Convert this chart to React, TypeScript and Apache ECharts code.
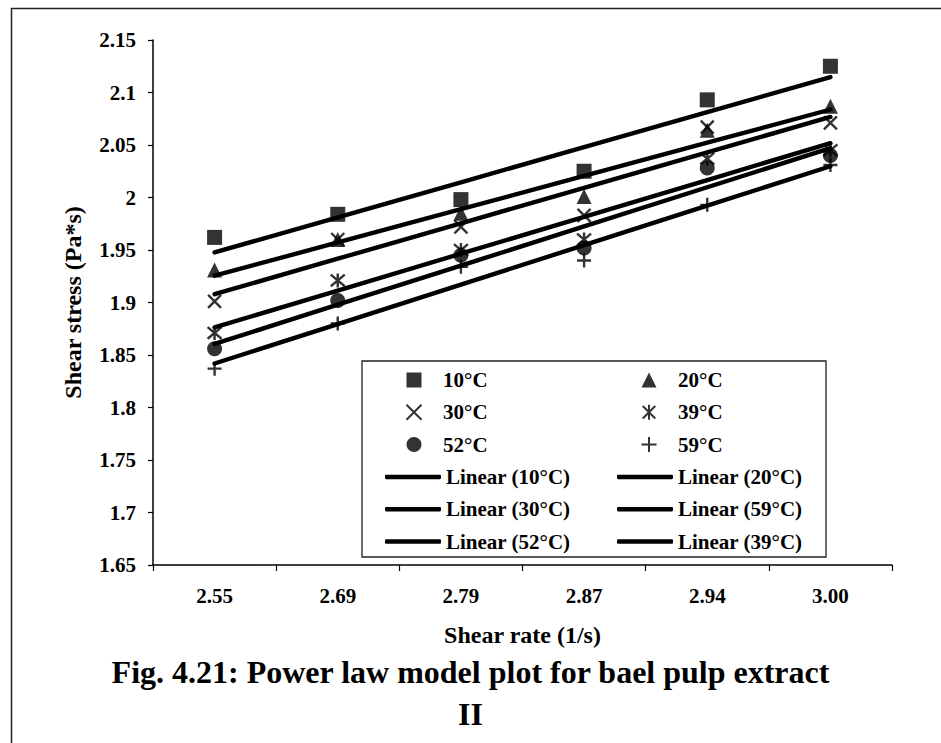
import React, { useEffect, useRef } from 'react';
import * as echarts from 'echarts';

const categories = ['2.55', '2.69', '2.79', '2.87', '2.94', '3.00'];
const s10 = [1.962, 1.984, 1.998, 2.025, 2.093, 2.125];
const s20 = [1.931, 1.96, 1.985, 2.001, 2.064, 2.087];
const s30 = [1.901, 1.96, 1.972, 1.983, 2.067, 2.071];
const s39 = [1.871, 1.921, 1.95, 1.96, 2.037, 2.045];
const s52 = [1.856, 1.902, 1.945, 1.952, 2.028, 2.04];
const s59 = [1.837, 1.88, 1.934, 1.94, 1.993, 2.031];
const yTicks = { min: 1.65, max: 2.15, interval: 0.05 };

const FONT = "'Liberation Serif', 'Times New Roman', serif";
const INK = '#000';

const SYM_X = 'path://M0,0L10,10M10,0L0,10';
const SYM_AST = 'path://M0,0L10,10M10,0L0,10M5,-1L5,11';
const SYM_PLUS = 'path://M5,0L5,10M0,5L10,5';

// least-squares linear trend over category index (as Excel's "Linear" trendline)
function trend(vals: number[]): number[] {
  const n = vals.length;
  const xm = (n - 1) / 2;
  const ym = vals.reduce((a, b) => a + b, 0) / n;
  let sxy = 0;
  let sxx = 0;
  vals.forEach((v, i) => {
    sxy += (i - xm) * (v - ym);
    sxx += (i - xm) * (i - xm);
  });
  const b = sxy / sxx;
  const a = ym - b * xm;
  return vals.map((_, i) => +(a + b * i).toFixed(5));
}

function scatter(name: string, data: number[], symbol: string, size: number, stroked: boolean) {
  return {
    name,
    type: 'scatter',
    data,
    symbol,
    symbolSize: size,
    z: 2,
    itemStyle: stroked
      ? { color: 'rgba(0,0,0,0)', borderColor: INK, borderWidth: 2.4 }
      : { color: INK, borderWidth: 0 },
  };
}

function trendLine(name: string, data: number[]) {
  return {
    name,
    type: 'line',
    data: trend(data),
    symbol: 'none',
    z: 3,
    itemStyle: { color: INK },
    lineStyle: { color: INK, width: 4.4, cap: 'round' },
  };
}

export default function App() {
  const ref = useRef<HTMLDivElement>(null);
  useEffect(() => {
    if (!ref.current) return;
    const chart = echarts.init(ref.current, undefined, { renderer: 'svg' });
    const textStyle = { fontFamily: FONT, fontWeight: 'bold', fontSize: 21, color: INK, lineHeight: 21 };
    const markerLegend = {
      orient: 'vertical',
      padding: 0,
      itemGap: 11.3,
      selectedMode: false,
      itemWidth: 15,
      itemHeight: 15,
      textStyle: { ...textStyle, padding: [0, 0, 0, 16.5] },
    };
    const lineLegend = {
      orient: 'vertical',
      padding: 0,
      itemGap: 11.3,
      selectedMode: false,
      itemWidth: 56,
      itemHeight: 4.5,
      textStyle,
    };
    const rowTop = 369.5;
    const rowStep = 32.3;
    const lineItems = (names: string[]) => names.map((n) => ({ name: n, icon: 'roundRect' }));
    chart.setOption({
      animation: false,
      backgroundColor: '#fff',
      title: {
        text: 'Fig. 4.21: Power law model plot for bael pulp extract\nII',
        left: 'center',
        top: 651,
        padding: 0,
        textStyle: { fontFamily: FONT, fontWeight: 'bold', fontSize: 32, color: INK, lineHeight: 42 },
      },
      grid: { left: 153, right: 49, top: 40, bottom: 178, containLabel: false },
      xAxis: {
        type: 'category',
        data: categories,
        boundaryGap: true,
        name: 'Shear rate (1/s)',
        nameLocation: 'middle',
        nameGap: 58,
        nameTextStyle: { fontFamily: FONT, fontWeight: 'bold', fontSize: 24, color: INK },
        axisLine: { lineStyle: { color: INK, width: 1.5 } },
        axisTick: { show: true, length: 6, lineStyle: { color: INK, width: 1.2 } },
        axisLabel: { fontFamily: FONT, fontWeight: 'bold', fontSize: 21, color: INK, margin: 20 },
        splitLine: { show: false },
      },
      yAxis: {
        type: 'value',
        min: yTicks.min,
        max: yTicks.max,
        interval: yTicks.interval,
        name: 'Shear stress (Pa*s)',
        nameLocation: 'middle',
        nameRotate: 90,
        nameGap: 68,
        nameTextStyle: { fontFamily: FONT, fontWeight: 'bold', fontSize: 24, color: INK },
        axisLine: { show: true, lineStyle: { color: INK, width: 1.5 } },
        axisTick: { show: true, length: 5, lineStyle: { color: INK, width: 1.2 } },
        axisLabel: { fontFamily: FONT, fontWeight: 'bold', fontSize: 21, color: INK, margin: 17 },
        splitLine: { show: false },
      },
      legend: [
        { ...markerLegend, left: 405.5, top: rowTop, data: ['10°C', '30°C', '52°C'] },
        { ...lineLegend, left: 385, top: rowTop + 3 * rowStep, data: lineItems(['Linear (10°C)', 'Linear (30°C)', 'Linear (52°C)']) },
        { ...markerLegend, left: 640.5, top: rowTop, data: ['20°C', '39°C', '59°C'] },
        { ...lineLegend, left: 617, top: rowTop + 3 * rowStep, data: lineItems(['Linear (20°C)', 'Linear (59°C)', 'Linear (39°C)']) },
      ],
      graphic: [
        { type: 'line', z: 1, shape: { x1: 11, y1: 8.5, x2: 941, y2: 8.5 }, style: { stroke: '#222', lineWidth: 1.5 } },
        { type: 'line', z: 1, shape: { x1: 11.5, y1: 8, x2: 11.5, y2: 743 }, style: { stroke: '#222', lineWidth: 1.5 } },
        { type: 'rect', z: 1, shape: { x: 362, y: 361, width: 464, height: 196 }, style: { fill: '#fff', stroke: '#222', lineWidth: 1.3 } },
      ],
      series: [
        scatter('10°C', s10, 'rect', 15, false),
        scatter('20°C', s20, 'triangle', 15, false),
        scatter('30°C', s30, SYM_X, 13, true),
        scatter('39°C', s39, SYM_AST, 14, true),
        scatter('52°C', s52, 'circle', 15, false),
        scatter('59°C', s59, SYM_PLUS, 14, true),
        trendLine('Linear (10°C)', s10),
        trendLine('Linear (20°C)', s20),
        trendLine('Linear (30°C)', s30),
        trendLine('Linear (59°C)', s59),
        trendLine('Linear (52°C)', s52),
        trendLine('Linear (39°C)', s39),
      ],
    });
    return () => chart.dispose();
  }, []);
  return (
    <div
      ref={ref}
      style={{ position: 'fixed', left: 0, top: 0, width: 941, height: 743, background: '#fff' }}
    />
  );
}
